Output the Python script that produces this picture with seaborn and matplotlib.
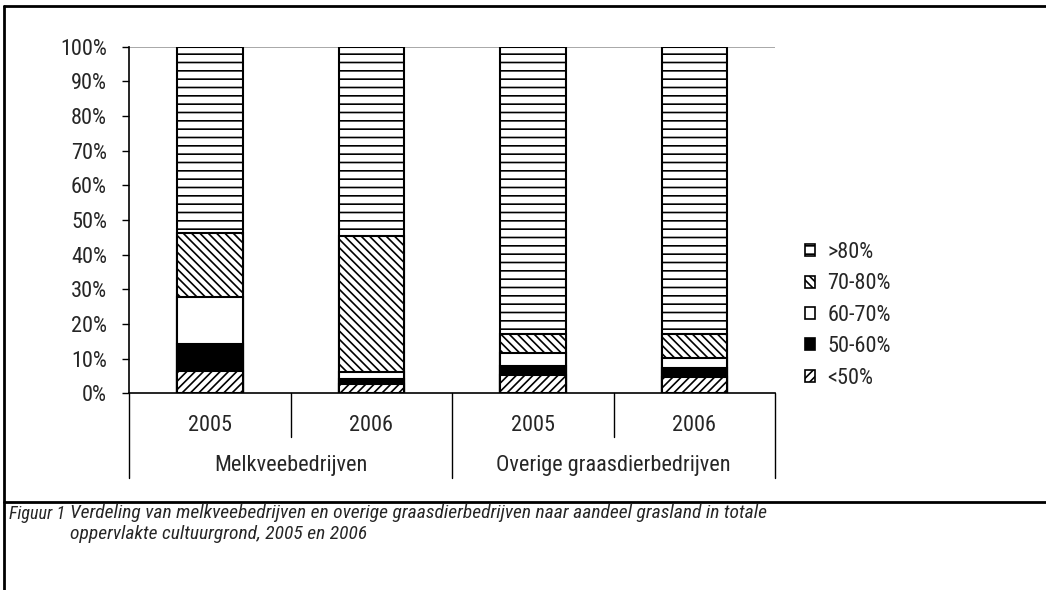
import matplotlib
matplotlib.use("Agg")
import matplotlib.pyplot as plt
import matplotlib.patches as mpatches
import seaborn as sns
import numpy as np
import pandas as pd

# ---- data ----
years = ["2005", "2006", "2005", "2006"]
groups = ["Melkveebedrijven", "Overige graasdierbedrijven"]
series_names = ["<50%", "50-60%", "60-70%", "70-80%", ">80%"]
lt50 = [6.5, 2.6, 5.4, 4.8]
s50_60 = [7.7, 1.4, 2.5, 2.5]
s60_70 = [13.5, 2.1, 3.8, 2.8]
s70_80 = [18.6, 39.2, 5.5, 6.9]
gt80 = [53.7, 54.7, 82.8, 83.0]
yticks = list(range(0, 101, 10))
caption_label = "Figuur 1"
caption_text = ("Verdeling van melkveebedrijven en overige graasdierbedrijven naar aandeel grasland in totale\n"
                "oppervlakte cultuurgrond, 2005 en 2006")

sns.set_style("white")
plt.rcParams["font.family"] = ["Roboto Condensed", "DejaVu Sans"]
plt.rcParams["hatch.linewidth"] = 1.2
FS = 16

fig = plt.figure(figsize=(10.46, 5.90), dpi=100)
ax = fig.add_axes([129.3 / 1046, 1 - 393.3 / 590, (775 - 129.3) / 1046, (393.3 - 46.7) / 590])

cats = [f"c{i}" for i in range(len(years))]
series = [lt50, s50_60, s60_70, s70_80, gt80]
fills = ["white", "black", "white", "white", "white"]
hatches = ["////", "", "", "\\\\\\\\", "--"]

cum = np.cumsum(np.array(series), axis=0)
# draw from top (largest cumulative) to bottom so lower segments overlay
for k in range(len(series) - 1, -1, -1):
    df = pd.DataFrame({"cat": cats, "val": cum[k]})
    n_before = len(ax.patches)
    sns.barplot(data=df, x="cat", y="val", order=cats, color=fills[k], width=0.406,
                edgecolor="black", linewidth=1.5, saturation=1, ax=ax, zorder=2)
    for p in ax.patches[n_before:]:
        p.set_facecolor(fills[k])
        p.set_hatch(hatches[k])
        p.set_edgecolor("black")

ax.set_xlim(-0.5, len(cats) - 0.5)
ax.set_ylim(0, 100)
ax.set_yticks(yticks)
ax.set_yticklabels([f"{t}%" for t in yticks], fontsize=FS)
ax.tick_params(axis="y", direction="out", length=5, width=1, color="black", pad=11, left=True)
ax.set_xticks([])
ax.set_xlabel("")
ax.set_ylabel("")
for s in ["top", "right"]:
    ax.spines[s].set_visible(False)
for s in ["left", "bottom"]:
    ax.spines[s].set_color("black")
    ax.spines[s].set_linewidth(1.2)
ax.axhline(100, color="#999999", lw=1.2, zorder=1)

trans = ax.get_xaxis_transform()
# category boundaries
for i, b in enumerate(np.arange(-0.5, len(cats), 1.0)):
    low = -0.244 if i % 2 == 0 else -0.125
    ax.plot([b, b], [0, low], transform=trans, color="black", lw=1, clip_on=False)
for i, y in enumerate(years):
    ax.text(i, -0.0915, y, transform=trans, ha="center", va="center", fontsize=FS)
for g, name in enumerate(groups):
    ax.text(2 * g + 0.5, -0.207, name, transform=trans, ha="center", va="center", fontsize=FS)

# legend
handles = [mpatches.Patch(facecolor=fills[k], hatch=hatches[k], edgecolor="black", linewidth=1.2,
                          label=series_names[k]) for k in range(len(series) - 1, -1, -1)]
fig.legend(handles=handles, loc="upper left", bbox_to_anchor=(805 / 1046, 1 - 242 / 590),
           frameon=False, fontsize=FS, handlelength=0.45, handleheight=0.45,
           handletextpad=0.55, labelspacing=0.47, borderaxespad=0, borderpad=0)

# frame lines
fig.add_artist(plt.Line2D([4 / 1046, 1], [1 - 5.5 / 590] * 2, transform=fig.transFigure, color="black", lw=2))
fig.add_artist(plt.Line2D([4 / 1046, 4 / 1046], [0, 1 - 5.5 / 590], transform=fig.transFigure, color="black", lw=2))
fig.add_artist(plt.Line2D([4 / 1046, 1], [1 - 501.5 / 590] * 2, transform=fig.transFigure, color="black", lw=2))

# caption
fig.text(9 / 1046, 1 - 505 / 590, caption_label, style="italic", fontsize=13, va="top", ha="left")
fig.text(70 / 1046, 1 - 504 / 590, caption_text, style="italic", fontsize=14, va="top", ha="left",
         linespacing=1.2)

fig.savefig("out.png", dpi=100)
